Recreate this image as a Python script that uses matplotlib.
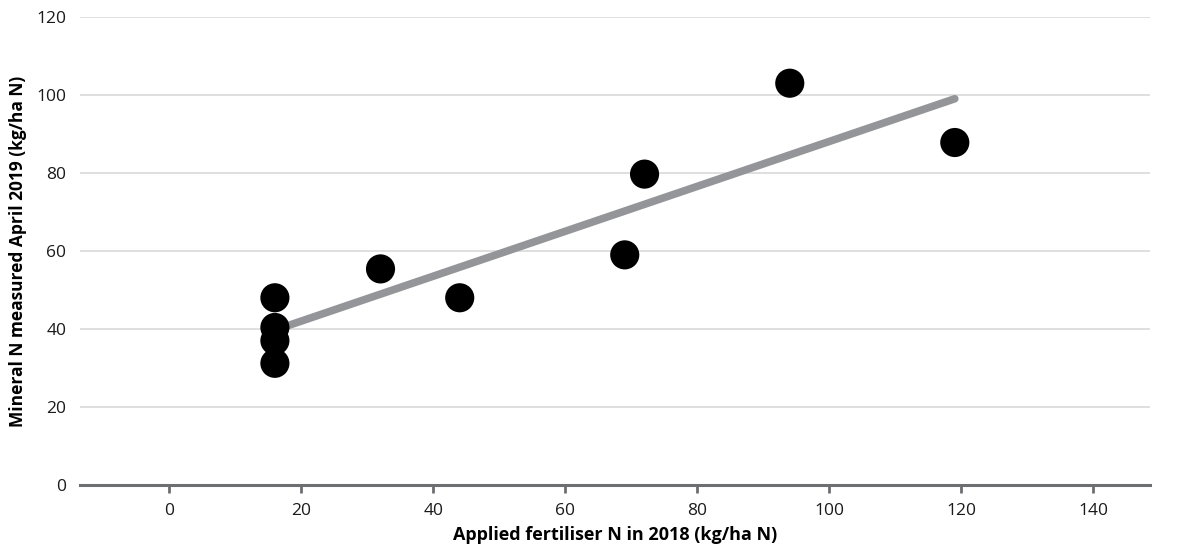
import numpy as np
import matplotlib
matplotlib.use("Agg")
import matplotlib.pyplot as plt

# datos
fertiliser_2018 = [16, 16, 16, 16, 32, 44, 69, 72, 94, 119]
mineral_n_2019 = [48, 40.4, 37, 31.2, 55.4, 48, 59, 79.7, 103, 87.8]
x_ticks = [0, 20, 40, 60, 80, 100, 120, 140]
y_ticks = [0, 20, 40, 60, 80, 100, 120]

plt.rcParams['font.family'] = ['Open Sans', 'DejaVu Sans']

fig = plt.figure(figsize=(11.79, 5.54), dpi=100)
ax = fig.add_axes([0.068, 0.1245, 0.907, 0.845])

# linea de tendencia (ajuste lineal)
pendiente, intercepto = np.polyfit(fertiliser_2018, mineral_n_2019, 1)
xs = np.array([min(fertiliser_2018), max(fertiliser_2018)])
ax.plot(xs, pendiente * xs + intercepto, color='#939598', lw=5.5,
        solid_capstyle='round', zorder=2)

ax.scatter(fertiliser_2018, mineral_n_2019, s=440, color='black',
           edgecolors='none', zorder=3)

ax.set_xlim(-13.5, 148.5)
ax.set_ylim(0, 120)
ax.set_xticks(x_ticks)
ax.set_yticks(y_ticks)

ax.grid(axis='y', color='#dcdcdc', lw=1.3, zorder=0)
ax.set_axisbelow(True)
for lado in ['top', 'right', 'left']:
    ax.spines[lado].set_visible(False)
ax.spines['bottom'].set_color('#6d6e71')
ax.spines['bottom'].set_linewidth(2.2)
ax.spines['bottom'].set_zorder(1)

ax.tick_params(axis='x', length=6, width=2, color='#6d6e71', labelsize=12.5,
               pad=7, labelcolor='#1a1a1a')
ax.tick_params(axis='y', length=0, labelsize=12.5, pad=10,
               labelcolor='#1a1a1a')

ax.set_xlabel('Applied fertiliser N in 2018 (kg/ha N)', fontsize=13,
              fontweight='bold', labelpad=5)
ax.set_ylabel('Mineral N measured April 2019 (kg/ha N)', fontsize=12.5,
              fontweight='bold', labelpad=7)

fig.savefig('out.png', dpi=100)
